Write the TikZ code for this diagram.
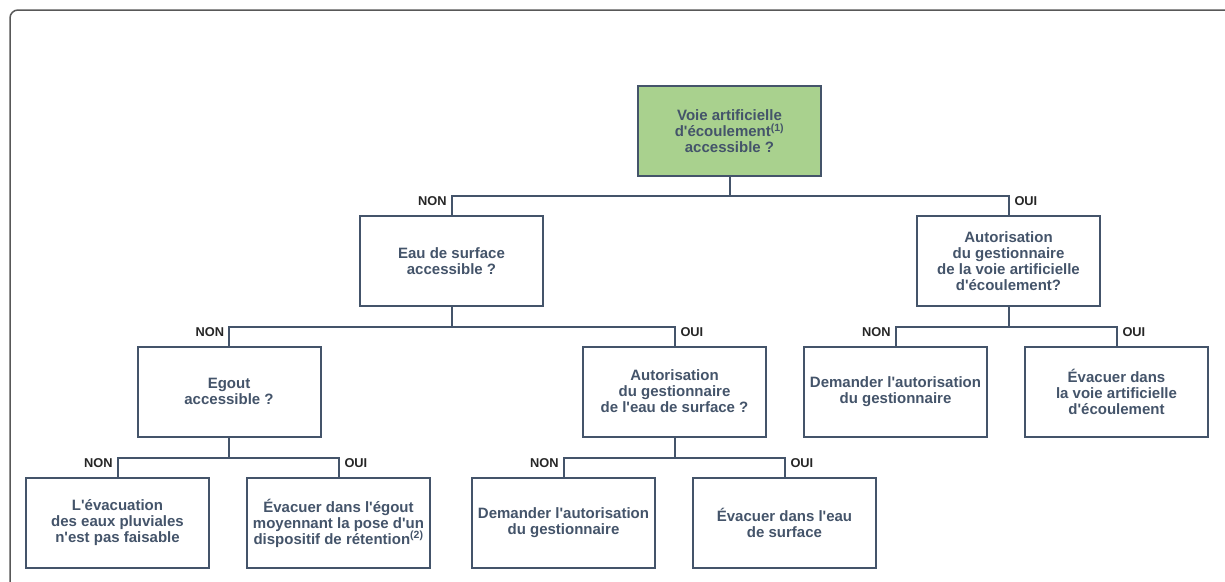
\documentclass[tikz,border=0pt]{standalone}
\usepackage{fontspec}
\setmainfont{Liberation Sans}[Ligatures=TeXOff]
\usetikzlibrary{positioning}
\definecolor{slate}{HTML}{44546A}
\definecolor{leafgreen}{HTML}{A9D18E}
\definecolor{framegray}{HTML}{585858}
\tikzset{
  box/.style={draw=slate, line width=2pt, fill=white, minimum width=183pt,
    minimum height=90pt, align=center, text=slate,
    font=\fontsize{15}{16}\selectfont\bfseries},
  link/.style={draw=slate, line width=2pt},
  lab/.style={font=\fontsize{12.8}{14}\selectfont\bfseries, text=black!85,
    inner sep=0pt},
}
\begin{document}
\begin{tikzpicture}[x=1pt, y=-1pt]
\useasboundingbox (0,0) rectangle (1225,581);
\clip (0,0) rectangle (1225,581);
\draw[framegray, line width=1.5pt, rounded corners=8pt] (10,10) rectangle (1260,620);
% level 1
\node (voie) [box, fill=leafgreen] at (729.5,131) {Voie artificielle\\d'écoulement\textsuperscript{(1)}\\accessible ?};
% level 2
\node (eau) [box] at (451.5,261) {Eau de surface\\accessible ?};
\node (autvoie) [box] at (1008.5,261) {Autorisation\\du gestionnaire\\de la voie artificielle\\d'écoulement?};
% level 3
\node (egout) [box] at (229,391.5) {Egout\\accessible ?};
\node (auteau) [box] at (674.5,391.5) {Autorisation\\du gestionnaire\\de l'eau de surface ?};
\node (demvoie) [box, right=36pt of auteau] {Demander l'autorisation\\du gestionnaire};
\node (evvoie) [box, right=36pt of demvoie] {Évacuer dans\\la voie artificielle\\d'écoulement};
% level 4
\node (pasfais) [box] at (117.5,523) {L'évacuation\\des eaux pluviales\\n'est pas faisable};
\node (evegout) [box, right=36pt of pasfais] {Évacuer dans l'égout\\moyennant la pose d'un\\dispositif de rétention\textsuperscript{(2)}};
\node (demeau) [box] at (563.5,523) {Demander l'autorisation\\du gestionnaire};
\node (eveau) [box, right=36pt of demeau] {Évacuer dans l'eau\\de surface};
% connectors
\draw[link] (voie.south) -- ++(0,19) -| node[lab, pos=0.5, anchor=north east, xshift=-4pt] {NON} (eau.north);
\draw[link] (voie.south) -- ++(0,19) -| node[lab, pos=0.5, anchor=north west, xshift=5pt] {OUI} (autvoie.north);
\draw[link] (eau.south) -- ++(0,20) -| node[lab, pos=0.5, anchor=north east, xshift=-4pt] {NON} (egout.north);
\draw[link] (eau.south) -- ++(0,20) -| node[lab, pos=0.5, anchor=north west, xshift=5pt] {OUI} (auteau.north);
\draw[link] (autvoie.south) -- ++(0,20) -| node[lab, pos=0.5, anchor=north east, xshift=-4pt] {NON} (demvoie.north);
\draw[link] (autvoie.south) -- ++(0,20) -| node[lab, pos=0.5, anchor=north west, xshift=5pt] {OUI} (evvoie.north);
\draw[link] (egout.south) -- ++(0,20) -| node[lab, pos=0.5, anchor=north east, xshift=-4pt] {NON} (pasfais.north);
\draw[link] (egout.south) -- ++(0,20) -| node[lab, pos=0.5, anchor=north west, xshift=5pt] {OUI} (evegout.north);
\draw[link] (auteau.south) -- ++(0,20) -| node[lab, pos=0.5, anchor=north east, xshift=-4pt] {NON} (demeau.north);
\draw[link] (auteau.south) -- ++(0,20) -| node[lab, pos=0.5, anchor=north west, xshift=5pt] {OUI} (eveau.north);
\end{tikzpicture}
\end{document}
